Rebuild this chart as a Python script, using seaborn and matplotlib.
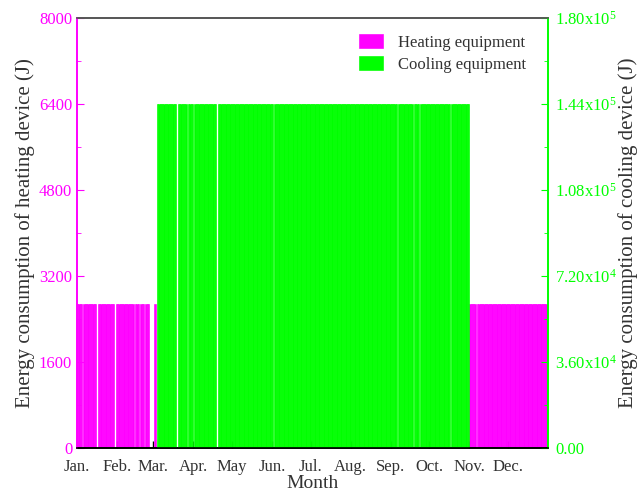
import numpy as np
import pandas as pd
import matplotlib
matplotlib.use("Agg")
import matplotlib.pyplot as plt
import seaborn as sns
from matplotlib.ticker import MultipleLocator, FixedLocator, FixedFormatter

# ---------------- data ----------------
months = ["Jan.", "Feb.", "Mar.", "Apr.", "May", "Jun.", "Jul.", "Aug.",
          "Sep.", "Oct.", "Nov.", "Dec."]
month_start_day = [0, 31, 59, 90, 120, 151, 181, 212, 243, 273, 304, 334]

heating_level = 2680.0        # J, daily heating consumption
cooling_level = 1.44e5        # J, daily cooling consumption

heating_periods = [(0, 62), (304, 365)]   # day ranges [start, end)
cooling_periods = [(62, 304)]
heating_off_days = [4, 15, 29, 44, 48, 52, 56, 57, 58, 59, 61, 309]
cooling_off_days = [77, 85, 90, 108, 152, 248, 260, 265, 289]

left_ticks = [0, 1600, 3200, 4800, 6400, 8000]
right_ticks = [0, 3.6e4, 7.2e4, 1.08e5, 1.44e5, 1.8e5]
right_tick_labels = ["0.00", "3.60x10$^{4}$", "7.20x10$^{4}$", "1.08x10$^{5}$",
                     "1.44x10$^{5}$", "1.80x10$^{5}$"]

# ---------------- build daily tables ----------------
def daily(periods, off_days, level):
    days, vals = [], []
    for s, e in periods:
        for d in range(s, e):
            days.append(d + 0.5)
            vals.append(0.0 if d in off_days else level)
    return pd.DataFrame({"day": days, "energy": vals})

heat_df = daily(heating_periods, heating_off_days, heating_level)
cool_df = daily(cooling_periods, cooling_off_days, cooling_level)

# ---------------- style ----------------
sns.set_style("ticks")
plt.rcParams["font.family"] = ["Liberation Serif", "DejaVu Serif"]
plt.rcParams["mathtext.fontset"] = "custom"
plt.rcParams["mathtext.rm"] = "Liberation Serif"
plt.rcParams["mathtext.it"] = "Liberation Serif:italic"

MAG = "#FF00FF"
GRN = "#00FF00"
TXT = "#333333"

fig = plt.figure(figsize=(6.38, 4.91), dpi=100)
ax = fig.add_axes([77 / 638, 1 - 448 / 491, 471 / 638, 430 / 491])
ax2 = ax.twinx()

sns.barplot(data=heat_df, x="day", y="energy", native_scale=True, width=1,
            color=MAG, saturation=1, errorbar=None, linewidth=0.45,
            edgecolor=MAG, label="Heating equipment", ax=ax)
sns.barplot(data=cool_df, x="day", y="energy", native_scale=True, width=1,
            color=GRN, saturation=1, errorbar=None, linewidth=0.45,
            edgecolor=GRN, label="Cooling equipment", ax=ax2)

ax.set_xlim(0, 365)
ax.set_ylim(0, 8000)
ax2.set_ylim(0, 1.8e5)

ax.xaxis.set_major_locator(FixedLocator(month_start_day))
ax.xaxis.set_major_formatter(FixedFormatter(months))
ax.tick_params(axis="x", direction="in", length=5, width=1, colors="black",
               labelcolor=TXT, labelsize=12, pad=8)

ax.yaxis.set_major_locator(FixedLocator(left_ticks))
ax.yaxis.set_minor_locator(MultipleLocator(800))
ax.tick_params(axis="y", which="both", direction="in", colors=MAG,
               labelcolor=MAG, labelsize=12)
ax.tick_params(axis="y", which="major", length=5)
ax.tick_params(axis="y", which="minor", length=3)

ax2.yaxis.set_major_locator(FixedLocator(right_ticks))
ax2.yaxis.set_major_formatter(FixedFormatter(right_tick_labels))
ax2.yaxis.set_minor_locator(MultipleLocator(1.8e4))
ax2.tick_params(axis="y", which="both", direction="in", colors=GRN,
                labelcolor=GRN, labelsize=12, pad=5)
ax2.tick_params(axis="y", which="major", length=5)
ax2.tick_params(axis="y", which="minor", length=3)

ax.set_xlabel("Month", fontsize=14, color=TXT, labelpad=0)
ax.set_ylabel("Energy consumption of heating device (J)", fontsize=15, color=TXT,
              labelpad=3)
ax2.set_ylabel("Energy consumption of cooling device (J)", fontsize=15, color=TXT,
               labelpad=1)

for a in (ax, ax2):
    a.spines["left"].set_color(MAG)
    a.spines["right"].set_color(GRN)
    a.spines["top"].set_color("#555555")
    a.spines["bottom"].set_color("black")
    for s in a.spines.values():
        s.set_linewidth(1.2)

h1, l1 = ax.get_legend_handles_labels()
h2, l2 = ax2.get_legend_handles_labels()
if ax.get_legend():
    ax.get_legend().remove()
if ax2.get_legend():
    ax2.get_legend().remove()
leg = ax2.legend(h1 + h2, l1 + l2, loc="upper right", frameon=False,
                 fontsize=12, handlelength=1.4, handleheight=0.9,
                 bbox_to_anchor=(0.985, 0.997), labelspacing=0.3,
                 handletextpad=0.9)
for t in leg.get_texts():
    t.set_color(TXT)

fig.savefig("out.png", dpi=100)
